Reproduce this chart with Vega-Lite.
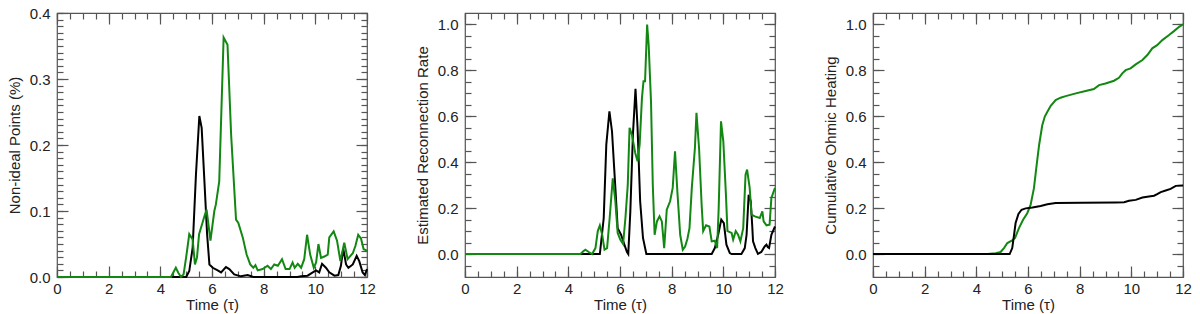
{
  "$schema": "https://vega.github.io/schema/vega-lite/v6.json",
  "padding": {"left": 6, "top": 5, "right": 5, "bottom": 5},
  "bounds": "flush",
  "spacing": 98,
  "config": {
    "view": {"stroke": "#555", "strokeWidth": 1.2},
    "axis": {"labelFont": "Liberation Sans", "titleFont": "Liberation Sans", "labelFontSize": 15, "titleFontSize": 15, "labelColor": "#222", "titleColor": "#222", "titleFontWeight": "normal", "tickColor": "#555", "tickWidth": 1.2, "grid": false, "domain": false, "ticks": true, "tickSize": -6, "labelOverlap": false, "labelFlush": false},
    "line": {"strokeWidth": 2}
  },
  "datasets": {
    "p1b": [{"t":0,"v":0},{"t":5.0,"v":0},{"t":5.12,"v":0.009},{"t":5.25,"v":0.044},{"t":5.38,"v":0.156},{"t":5.51,"v":0.244},{"t":5.6,"v":0.226},{"t":5.7,"v":0.15},{"t":5.81,"v":0.065},{"t":5.9,"v":0.019},{"t":6.03,"v":0.014},{"t":6.22,"v":0.01},{"t":6.35,"v":0.007},{"t":6.54,"v":0.015},{"t":6.67,"v":0.012},{"t":6.86,"v":0.004},{"t":7.12,"v":0.001},{"t":7.38,"v":0.003},{"t":7.6,"v":0},{"t":9.3,"v":0},{"t":9.45,"v":0.001},{"t":9.7,"v":0.002},{"t":9.9,"v":0.007},{"t":10.03,"v":0.01},{"t":10.15,"v":0.007},{"t":10.26,"v":0.02},{"t":10.41,"v":0.014},{"t":10.54,"v":0.007},{"t":10.74,"v":0.002},{"t":10.89,"v":0.003},{"t":10.99,"v":0.017},{"t":11.08,"v":0.043},{"t":11.19,"v":0.019},{"t":11.28,"v":0.014},{"t":11.45,"v":0.019},{"t":11.6,"v":0.032},{"t":11.7,"v":0.024},{"t":11.83,"v":0.007},{"t":11.92,"v":0.003},{"t":12,"v":0.012}],
    "p1g": [{"t":0,"v":0},{"t":4.41,"v":0},{"t":4.6,"v":0.014},{"t":4.7,"v":0.006},{"t":4.8,"v":0},{"t":4.9,"v":0.004},{"t":5.0,"v":0.03},{"t":5.12,"v":0.065},{"t":5.25,"v":0.057},{"t":5.34,"v":0.019},{"t":5.42,"v":0.03},{"t":5.5,"v":0.065},{"t":5.73,"v":0.095},{"t":5.79,"v":0.102},{"t":5.94,"v":0.055},{"t":6.09,"v":0.1},{"t":6.15,"v":0.11},{"t":6.28,"v":0.145},{"t":6.45,"v":0.363},{"t":6.6,"v":0.352},{"t":6.74,"v":0.216},{"t":6.93,"v":0.087},{"t":7.02,"v":0.082},{"t":7.19,"v":0.06},{"t":7.34,"v":0.034},{"t":7.48,"v":0.019},{"t":7.6,"v":0.014},{"t":7.68,"v":0.018},{"t":7.77,"v":0.01},{"t":7.96,"v":0.012},{"t":8.15,"v":0.017},{"t":8.28,"v":0.012},{"t":8.41,"v":0.019},{"t":8.55,"v":0.017},{"t":8.71,"v":0.027},{"t":8.85,"v":0.012},{"t":9.0,"v":0.012},{"t":9.12,"v":0.022},{"t":9.2,"v":0.014},{"t":9.32,"v":0.02},{"t":9.45,"v":0.014},{"t":9.57,"v":0.027},{"t":9.68,"v":0.064},{"t":9.8,"v":0.034},{"t":9.94,"v":0.014},{"t":10.03,"v":0.022},{"t":10.12,"v":0.05},{"t":10.22,"v":0.029},{"t":10.35,"v":0.031},{"t":10.48,"v":0.034},{"t":10.54,"v":0.06},{"t":10.71,"v":0.069},{"t":10.84,"v":0.055},{"t":10.97,"v":0.024},{"t":11.12,"v":0.052},{"t":11.25,"v":0.027},{"t":11.45,"v":0.036},{"t":11.55,"v":0.047},{"t":11.66,"v":0.064},{"t":11.77,"v":0.058},{"t":11.87,"v":0.042},{"t":12,"v":0.04}],
    "p2b": [{"t":0,"v":0},{"t":5.22,"v":0},{"t":5.37,"v":0.157},{"t":5.47,"v":0.477},{"t":5.59,"v":0.622},{"t":5.69,"v":0.535},{"t":5.82,"v":0.288},{"t":5.91,"v":0.113},{"t":6.04,"v":0.084},{"t":6.17,"v":0.041},{"t":6.27,"v":0.009},{"t":6.32,"v":0},{"t":6.4,"v":0.186},{"t":6.5,"v":0.52},{"t":6.6,"v":0.72},{"t":6.68,"v":0.55},{"t":6.78,"v":0.23},{"t":6.89,"v":0.07},{"t":7.02,"v":0},{"t":9.55,"v":0},{"t":9.67,"v":0.026},{"t":9.8,"v":0.084},{"t":9.92,"v":0.15},{"t":10.02,"v":0.135},{"t":10.12,"v":0.041},{"t":10.25,"v":0.004},{"t":10.32,"v":0},{"t":10.7,"v":0},{"t":10.83,"v":0.026},{"t":10.9,"v":0.084},{"t":10.98,"v":0.258},{"t":11.06,"v":0.23},{"t":11.12,"v":0.12},{"t":11.15,"v":0.055},{"t":11.24,"v":0.026},{"t":11.34,"v":0.001},{"t":11.47,"v":0.009},{"t":11.6,"v":0.033},{"t":11.67,"v":0.041},{"t":11.72,"v":0.03},{"t":11.77,"v":0.026},{"t":11.86,"v":0.084},{"t":12,"v":0.12}],
    "p2g": [{"t":0,"v":0},{"t":4.47,"v":0},{"t":4.58,"v":0.012},{"t":4.66,"v":0.019},{"t":4.79,"v":0.009},{"t":4.92,"v":0},{"t":5.05,"v":0.026},{"t":5.14,"v":0.1},{"t":5.22,"v":0.125},{"t":5.31,"v":0.084},{"t":5.4,"v":0.019},{"t":5.5,"v":0.026},{"t":5.6,"v":0.157},{"t":5.72,"v":0.33},{"t":5.82,"v":0.23},{"t":5.91,"v":0.092},{"t":6.01,"v":0.063},{"t":6.12,"v":0.044},{"t":6.21,"v":0.157},{"t":6.3,"v":0.3},{"t":6.37,"v":0.55},{"t":6.46,"v":0.52},{"t":6.59,"v":0.44},{"t":6.68,"v":0.404},{"t":6.76,"v":0.477},{"t":6.85,"v":0.68},{"t":6.91,"v":0.753},{"t":6.97,"v":0.753},{"t":7.05,"v":1.0},{"t":7.11,"v":0.91},{"t":7.2,"v":0.666},{"t":7.27,"v":0.3},{"t":7.34,"v":0.084},{"t":7.43,"v":0.142},{"t":7.53,"v":0.164},{"t":7.62,"v":0.142},{"t":7.71,"v":0.026},{"t":7.81,"v":0.193},{"t":7.94,"v":0.23},{"t":8.04,"v":0.288},{"t":8.13,"v":0.448},{"t":8.22,"v":0.273},{"t":8.33,"v":0.084},{"t":8.43,"v":0.019},{"t":8.52,"v":0.033},{"t":8.61,"v":0.067},{"t":8.69,"v":0.113},{"t":8.78,"v":0.288},{"t":8.9,"v":0.462},{"t":8.96,"v":0.615},{"t":9.06,"v":0.462},{"t":9.16,"v":0.215},{"t":9.22,"v":0.1},{"t":9.33,"v":0.125},{"t":9.46,"v":0.12},{"t":9.55,"v":0.055},{"t":9.67,"v":0.058},{"t":9.76,"v":0.026},{"t":9.82,"v":0.2},{"t":9.91,"v":0.578},{"t":10.0,"v":0.49},{"t":10.1,"v":0.26},{"t":10.16,"v":0.1},{"t":10.32,"v":0.092},{"t":10.38,"v":0.063},{"t":10.48,"v":0.1},{"t":10.57,"v":0.084},{"t":10.66,"v":0.055},{"t":10.77,"v":0.113},{"t":10.86,"v":0.346},{"t":10.92,"v":0.368},{"t":11.02,"v":0.288},{"t":11.09,"v":0.172},{"t":11.22,"v":0.164},{"t":11.41,"v":0.157},{"t":11.51,"v":0.186},{"t":11.56,"v":0.142},{"t":11.67,"v":0.125},{"t":11.79,"v":0.128},{"t":11.86,"v":0.244},{"t":12,"v":0.288}],
    "p3g": [{"t":4.43,"v":0},{"t":4.75,"v":0.004},{"t":4.94,"v":0.009},{"t":5.07,"v":0.026},{"t":5.2,"v":0.048},{"t":5.37,"v":0.058},{"t":5.5,"v":0.07},{"t":5.65,"v":0.113},{"t":5.81,"v":0.149},{"t":5.97,"v":0.178},{"t":6.1,"v":0.214},{"t":6.23,"v":0.287},{"t":6.32,"v":0.374},{"t":6.43,"v":0.475},{"t":6.55,"v":0.56},{"t":6.65,"v":0.599},{"t":6.75,"v":0.62},{"t":6.88,"v":0.646},{"t":7.07,"v":0.671},{"t":7.26,"v":0.681},{"t":7.46,"v":0.688},{"t":7.85,"v":0.7},{"t":8.23,"v":0.71},{"t":8.55,"v":0.719},{"t":8.75,"v":0.736},{"t":9.0,"v":0.743},{"t":9.33,"v":0.755},{"t":9.52,"v":0.768},{"t":9.65,"v":0.787},{"t":9.78,"v":0.801},{"t":9.97,"v":0.809},{"t":10.17,"v":0.826},{"t":10.43,"v":0.845},{"t":10.62,"v":0.867},{"t":10.81,"v":0.896},{"t":11.0,"v":0.91},{"t":11.2,"v":0.932},{"t":11.46,"v":0.954},{"t":11.65,"v":0.971},{"t":11.85,"v":0.99},{"t":12,"v":1.0}],
    "p3b": [{"t":0,"v":0},{"t":5.29,"v":0},{"t":5.39,"v":0.026},{"t":5.46,"v":0.084},{"t":5.52,"v":0.135},{"t":5.63,"v":0.175},{"t":5.75,"v":0.193},{"t":5.91,"v":0.199},{"t":6.17,"v":0.203},{"t":6.49,"v":0.209},{"t":6.75,"v":0.217},{"t":7.07,"v":0.222},{"t":8.1,"v":0.223},{"t":9.39,"v":0.225},{"t":9.72,"v":0.226},{"t":9.91,"v":0.232},{"t":10.17,"v":0.236},{"t":10.43,"v":0.246},{"t":10.68,"v":0.251},{"t":10.88,"v":0.254},{"t":11.0,"v":0.261},{"t":11.14,"v":0.27},{"t":11.33,"v":0.277},{"t":11.52,"v":0.284},{"t":11.72,"v":0.297},{"t":12,"v":0.299}]
  },
  "hconcat": [
    {
      "width": 310, "height": 264,
      "resolve": {"axis": {"x": "independent", "y": "independent"}},
      "layer": [
        {
          "data": {"name": "p1b"},
          "mark": {"type": "line", "opacity": 0},
          "encoding": {
            "x": {"field": "t", "type": "quantitative", "scale": {"domain": [0, 12], "nice": false, "zero": false},
              "axis": {"orient": "bottom", "title": null, "labels": false, "tickSize": -6, "values": [0,0.5,1,1.5,2,2.5,3,3.5,4,4.5,5,5.5,6,6.5,7,7.5,8,8.5,9,9.5,10,10.5,11,11.5,12]}},
            "y": {"field": "v", "type": "quantitative", "scale": {"domain": [0, 0.4], "nice": false, "zero": false},
              "axis": {"orient": "left", "title": null, "labels": false, "tickSize": -6, "values": [0,0.01,0.02,0.03,0.04,0.05,0.06,0.07,0.08,0.09,0.1,0.11,0.12,0.13,0.14,0.15,0.16,0.17,0.18,0.19,0.2,0.21,0.22,0.23,0.24,0.25,0.26,0.27,0.28,0.29,0.3,0.31,0.32,0.33,0.34,0.35,0.36,0.37,0.38,0.39,0.4]}}
          }
        },
        {
          "data": {"name": "p1b"},
          "mark": {"type": "line", "opacity": 0},
          "encoding": {
            "x": {"field": "t", "type": "quantitative", "scale": {"domain": [0, 12], "nice": false, "zero": false},
              "axis": {"orient": "top", "title": null, "labels": false, "tickSize": -6, "values": [0,0.5,1,1.5,2,2.5,3,3.5,4,4.5,5,5.5,6,6.5,7,7.5,8,8.5,9,9.5,10,10.5,11,11.5,12]}},
            "y": {"field": "v", "type": "quantitative", "scale": {"domain": [0, 0.4], "nice": false, "zero": false},
              "axis": {"orient": "right", "title": null, "labels": false, "tickSize": -6, "values": [0,0.01,0.02,0.03,0.04,0.05,0.06,0.07,0.08,0.09,0.1,0.11,0.12,0.13,0.14,0.15,0.16,0.17,0.18,0.19,0.2,0.21,0.22,0.23,0.24,0.25,0.26,0.27,0.28,0.29,0.3,0.31,0.32,0.33,0.34,0.35,0.36,0.37,0.38,0.39,0.4]}}
          }
        },
        {
          "data": {"name": "p1b"},
          "mark": {"type": "line", "color": "#000000"},
          "encoding": {
            "x": {"field": "t", "type": "quantitative", "scale": {"domain": [0, 12], "nice": false, "zero": false},
              "axis": {"orient": "top", "title": null, "labels": false, "tickSize": -11, "values": [0,2,4,6,8,10,12]}},
            "y": {"field": "v", "type": "quantitative", "scale": {"domain": [0, 0.4], "nice": false, "zero": false},
              "axis": {"orient": "right", "title": null, "labels": false, "tickSize": -11, "values": [0,0.1,0.2,0.3,0.4]}}
          }
        },
        {
          "data": {"name": "p1g"},
          "mark": {"type": "line", "color": "#128812"},
          "encoding": {
            "x": {"field": "t", "type": "quantitative", "scale": {"domain": [0, 12], "nice": false, "zero": false},
              "axis": {"orient": "bottom", "title": "Time (τ)", "titlePadding": 1, "tickSize": -11, "labelPadding": 15, "format": "d", "values": [0,2,4,6,8,10,12]}},
            "y": {"field": "v", "type": "quantitative", "scale": {"domain": [0, 0.4], "nice": false, "zero": false},
              "axis": {"orient": "left", "title": "Non-ideal Points (%)", "titlePadding": 7, "tickSize": -11, "labelPadding": 18, "format": ".1f", "values": [0,0.1,0.2,0.3,0.4]}}
          }
        }
      ]
    },
    {
      "width": 310, "height": 264,
      "resolve": {"axis": {"x": "independent", "y": "independent"}},
      "layer": [
        {
          "data": {"name": "p2b"},
          "mark": {"type": "line", "opacity": 0},
          "encoding": {
            "x": {"field": "t", "type": "quantitative", "scale": {"domain": [0, 12], "nice": false, "zero": false},
              "axis": {"orient": "bottom", "title": null, "labels": false, "tickSize": -6, "values": [0,0.5,1,1.5,2,2.5,3,3.5,4,4.5,5,5.5,6,6.5,7,7.5,8,8.5,9,9.5,10,10.5,11,11.5,12]}},
            "y": {"field": "v", "type": "quantitative", "scale": {"domain": [-0.1, 1.05], "nice": false, "zero": false},
              "axis": {"orient": "left", "title": null, "labels": false, "tickSize": -6, "values": [-0.05,0,0.05,0.1,0.15,0.2,0.25,0.3,0.35,0.4,0.45,0.5,0.55,0.6,0.65,0.7,0.75,0.8,0.85,0.9,0.95,1.0]}}
          }
        },
        {
          "data": {"name": "p2b"},
          "mark": {"type": "line", "opacity": 0},
          "encoding": {
            "x": {"field": "t", "type": "quantitative", "scale": {"domain": [0, 12], "nice": false, "zero": false},
              "axis": {"orient": "top", "title": null, "labels": false, "tickSize": -6, "values": [0,0.5,1,1.5,2,2.5,3,3.5,4,4.5,5,5.5,6,6.5,7,7.5,8,8.5,9,9.5,10,10.5,11,11.5,12]}},
            "y": {"field": "v", "type": "quantitative", "scale": {"domain": [-0.1, 1.05], "nice": false, "zero": false},
              "axis": {"orient": "right", "title": null, "labels": false, "tickSize": -6, "values": [-0.05,0,0.05,0.1,0.15,0.2,0.25,0.3,0.35,0.4,0.45,0.5,0.55,0.6,0.65,0.7,0.75,0.8,0.85,0.9,0.95,1.0]}}
          }
        },
        {
          "data": {"name": "p2b"},
          "mark": {"type": "line", "color": "#000000"},
          "encoding": {
            "x": {"field": "t", "type": "quantitative", "scale": {"domain": [0, 12], "nice": false, "zero": false},
              "axis": {"orient": "top", "title": null, "labels": false, "tickSize": -11, "values": [0,2,4,6,8,10,12]}},
            "y": {"field": "v", "type": "quantitative", "scale": {"domain": [-0.1, 1.05], "nice": false, "zero": false},
              "axis": {"orient": "right", "title": null, "labels": false, "tickSize": -11, "values": [0,0.2,0.4,0.6,0.8,1.0]}}
          }
        },
        {
          "data": {"name": "p2g"},
          "mark": {"type": "line", "color": "#128812"},
          "encoding": {
            "x": {"field": "t", "type": "quantitative", "scale": {"domain": [0, 12], "nice": false, "zero": false},
              "axis": {"orient": "bottom", "title": "Time (τ)", "titlePadding": 1, "tickSize": -11, "labelPadding": 15, "format": "d", "values": [0,2,4,6,8,10,12]}},
            "y": {"field": "v", "type": "quantitative", "scale": {"domain": [-0.1, 1.05], "nice": false, "zero": false},
              "axis": {"orient": "left", "title": "Estimated Reconnection Rate", "titlePadding": 7, "tickSize": -11, "labelPadding": 18, "format": ".1f", "values": [0,0.2,0.4,0.6,0.8,1.0]}}
          }
        }
      ]
    },
    {
      "width": 310, "height": 264,
      "resolve": {"axis": {"x": "independent", "y": "independent"}},
      "layer": [
        {
          "data": {"name": "p3b"},
          "mark": {"type": "line", "opacity": 0},
          "encoding": {
            "x": {"field": "t", "type": "quantitative", "scale": {"domain": [0, 12], "nice": false, "zero": false},
              "axis": {"orient": "bottom", "title": null, "labels": false, "tickSize": -6, "values": [0,0.5,1,1.5,2,2.5,3,3.5,4,4.5,5,5.5,6,6.5,7,7.5,8,8.5,9,9.5,10,10.5,11,11.5,12]}},
            "y": {"field": "v", "type": "quantitative", "scale": {"domain": [-0.1, 1.05], "nice": false, "zero": false},
              "axis": {"orient": "left", "title": null, "labels": false, "tickSize": -6, "values": [-0.05,0,0.05,0.1,0.15,0.2,0.25,0.3,0.35,0.4,0.45,0.5,0.55,0.6,0.65,0.7,0.75,0.8,0.85,0.9,0.95,1.0]}}
          }
        },
        {
          "data": {"name": "p3b"},
          "mark": {"type": "line", "opacity": 0},
          "encoding": {
            "x": {"field": "t", "type": "quantitative", "scale": {"domain": [0, 12], "nice": false, "zero": false},
              "axis": {"orient": "top", "title": null, "labels": false, "tickSize": -6, "values": [0,0.5,1,1.5,2,2.5,3,3.5,4,4.5,5,5.5,6,6.5,7,7.5,8,8.5,9,9.5,10,10.5,11,11.5,12]}},
            "y": {"field": "v", "type": "quantitative", "scale": {"domain": [-0.1, 1.05], "nice": false, "zero": false},
              "axis": {"orient": "right", "title": null, "labels": false, "tickSize": -6, "values": [-0.05,0,0.05,0.1,0.15,0.2,0.25,0.3,0.35,0.4,0.45,0.5,0.55,0.6,0.65,0.7,0.75,0.8,0.85,0.9,0.95,1.0]}}
          }
        },
        {
          "data": {"name": "p3g"},
          "mark": {"type": "line", "color": "#128812"},
          "encoding": {
            "x": {"field": "t", "type": "quantitative", "scale": {"domain": [0, 12], "nice": false, "zero": false},
              "axis": {"orient": "top", "title": null, "labels": false, "tickSize": -11, "values": [0,2,4,6,8,10,12]}},
            "y": {"field": "v", "type": "quantitative", "scale": {"domain": [-0.1, 1.05], "nice": false, "zero": false},
              "axis": {"orient": "right", "title": null, "labels": false, "tickSize": -11, "values": [0,0.2,0.4,0.6,0.8,1.0]}}
          }
        },
        {
          "data": {"name": "p3b"},
          "mark": {"type": "line", "color": "#000000"},
          "encoding": {
            "x": {"field": "t", "type": "quantitative", "scale": {"domain": [0, 12], "nice": false, "zero": false},
              "axis": {"orient": "bottom", "title": "Time (τ)", "titlePadding": 1, "tickSize": -11, "labelPadding": 15, "format": "d", "values": [0,2,4,6,8,10,12]}},
            "y": {"field": "v", "type": "quantitative", "scale": {"domain": [-0.1, 1.05], "nice": false, "zero": false},
              "axis": {"orient": "left", "title": "Cumulative Ohmic Heating", "titlePadding": 7, "tickSize": -11, "labelPadding": 18, "format": ".1f", "values": [0,0.2,0.4,0.6,0.8,1.0]}}
          }
        }
      ]
    }
  ]
}
